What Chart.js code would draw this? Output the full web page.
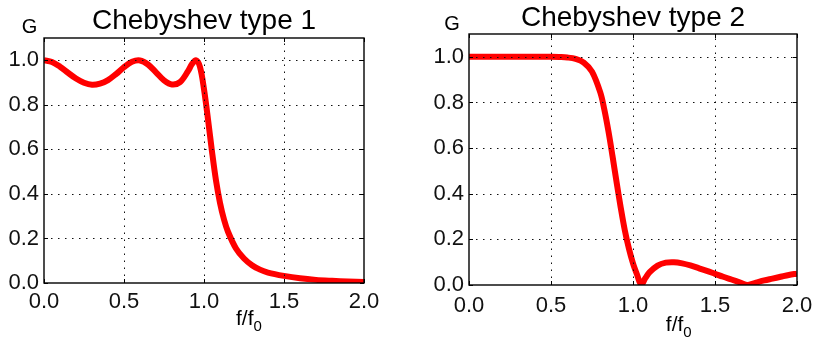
<!DOCTYPE html>
<html>
<head>
<meta charset="utf-8">
<script src="https://cdn.jsdelivr.net/npm/chart.js@4.4.1/dist/chart.umd.min.js"></script>
<style>
  html, body { margin: 0; padding: 0; background: #fff; overflow: hidden; }
  body { width: 814px; height: 340px; position: relative; }
  canvas { position: absolute; top: 0; }
  #c1 { left: 0; }
  #c2 { left: 407px; }
</style>
</head>
<body>
<canvas id="c1" width="407" height="340"></canvas>
<canvas id="c2" width="420" height="340"></canvas>
<script>
// Normalised frequency f/f0 and gain G of a 5th-order Chebyshev type 1 low-pass (1 dB ripple)
const freq1 = [0, 0.05, 0.1, 0.15, 0.2, 0.25, 0.3, 0.35, 0.4, 0.45, 0.5, 0.55, 0.6, 0.65, 0.7,
  0.75, 0.8, 0.85, 0.9, 0.925, 0.95, 0.975, 1.0, 1.025, 1.05, 1.075, 1.1, 1.125, 1.15, 1.2,
  1.25, 1.3, 1.35, 1.4, 1.5, 1.6, 1.7, 1.8, 1.9, 2.0];
const gain1 = [1.000, 0.992, 0.971, 0.944, 0.918, 0.899, 0.890, 0.895, 0.911, 0.938, 0.969,
  0.993, 0.999, 0.981, 0.946, 0.910, 0.891, 0.902, 0.951, 0.983, 1.000, 0.970, 0.870, 0.735,
  0.590, 0.460, 0.360, 0.285, 0.230, 0.155, 0.110, 0.080, 0.060, 0.047, 0.032, 0.021, 0.014,
  0.010, 0.007, 0.005];

// Same for a 5th-order Chebyshev type 2 low-pass (20 dB stop band)
const freq2 = [0, 0.1, 0.2, 0.3, 0.4, 0.5, 0.55, 0.6, 0.65, 0.7, 0.75, 0.8, 0.825, 0.85, 0.875,
  0.9, 0.925, 0.95, 0.975, 1.0, 1.025, 1.05, 1.075, 1.1, 1.15, 1.2, 1.25, 1.3, 1.35, 1.4,
  1.45, 1.5, 1.55, 1.6, 1.65, 1.7, 1.75, 1.8, 1.85, 1.9, 1.95, 2.0];
const gain2 = [1.000, 1.000, 1.000, 1.000, 1.000, 1.000, 0.999, 0.997, 0.991, 0.975, 0.935,
  0.845, 0.770, 0.675, 0.565, 0.450, 0.340, 0.240, 0.160, 0.095, 0.045, 0.002, 0.030, 0.055,
  0.085, 0.098, 0.100, 0.095, 0.086, 0.074, 0.062, 0.049, 0.036, 0.024, 0.012, 0.000, 0.010,
  0.020, 0.028, 0.036, 0.044, 0.050];

const xTickValues = [0, 0.5, 1.0, 1.5, 2.0];
const yTickValues = [0, 0.2, 0.4, 0.6, 0.8, 1.0];
const titles = ['Chebyshev type 1', 'Chebyshev type 2'];
const yLabel = 'G';
const xLabelMain = 'f/f';
const xLabelSub = '0';

const FONT = "'Liberation Sans', Arial, Helvetica, sans-serif";

// Dotted grid, inward tick marks and the frame, drawn over the curve
const frameDecor = {
  id: 'frameDecor',
  afterDatasetsDraw(chart, args, o) {
    const { ctx, chartArea: a, scales: { x, y } } = chart;
    const line = (x1, y1, x2, y2) => { ctx.beginPath(); ctx.moveTo(x1, y1); ctx.lineTo(x2, y2); ctx.stroke(); };
    ctx.save();
    ctx.strokeStyle = '#111';
    ctx.lineWidth = 1;
    ctx.setLineDash([1.5, 5.5]);
    xTickValues.forEach(v => {
      if (v <= x.min || v >= x.max) return;
      const px = Math.round(x.getPixelForValue(v)) + 0.5;
      line(px, a.bottom, px, a.top);
    });
    yTickValues.forEach(v => {
      if (v <= y.min || v >= y.max) return;
      const py = Math.round(y.getPixelForValue(v)) + 0.5;
      line(a.left, py, a.right, py);
    });
    ctx.setLineDash([]);
    ctx.strokeStyle = '#000';
    const tl = 4;
    xTickValues.forEach(v => {
      const px = Math.round(x.getPixelForValue(v)) + 0.5;
      line(px, a.bottom, px, a.bottom - tl);
      line(px, a.top, px, a.top + tl);
    });
    yTickValues.forEach(v => {
      const py = Math.round(y.getPixelForValue(v)) + 0.5;
      line(a.left, py, a.left + tl, py);
      line(a.right, py, a.right - tl, py);
    });
    ctx.lineWidth = 1.4;
    ctx.strokeRect(a.left, a.top, a.right - a.left, a.bottom - a.top);
    ctx.restore();
  },
  afterDraw(chart, args, o) {
    const { ctx, chartArea: a } = chart;
    ctx.save();
    ctx.fillStyle = '#000';
    ctx.textBaseline = 'alphabetic';
    // title
    ctx.font = `28px ${FONT}`;
    ctx.textAlign = 'center';
    ctx.fillText(o.title, (a.left + a.right) / 2, o.titleBaseline);
    // y axis label
    ctx.font = `20px ${FONT}`;
    ctx.fillText(yLabel, a.left - o.gOffset, a.top - o.gRaise);
    // x axis label with subscript
    ctx.textAlign = 'left';
    const lx = a.left + (a.right - a.left) * 0.6;
    const ly = a.bottom + o.xLabelDrop;
    ctx.font = `21px ${FONT}`;
    ctx.fillText(xLabelMain, lx, ly);
    const w = ctx.measureText(xLabelMain).width;
    ctx.font = `15px ${FONT}`;
    ctx.fillText(xLabelSub, lx + w, ly + 6);
    ctx.restore();
  }
};

function makeChart(id, freq, gain, cfg) {
  const points = freq.map((f, i) => ({ x: f, y: gain[i] }));
  return new Chart(document.getElementById(id), {
    type: 'line',
    data: {
      datasets: [{
        data: points,
        borderColor: '#ff0000',
        borderWidth: 6,
        pointRadius: 0,
        tension: 0.35,
        fill: false
      }]
    },
    options: {
      responsive: false,
      animation: false,
      devicePixelRatio: 1,
      layout: { padding: { left: 0, right: cfg.padRight, top: cfg.padTop, bottom: 0 } },
      plugins: {
        legend: { display: false },
        tooltip: { enabled: false },
        title: { display: false },
        frameDecor: cfg.decor
      },
      scales: {
        x: {
          type: 'linear',
          min: 0,
          max: 2,
          afterBuildTicks: s => { s.ticks = xTickValues.map(v => ({ value: v })); },
          afterFit: s => { s.height = cfg.xHeight; },
          grid: { display: false, drawTicks: false },
          border: { display: false },
          ticks: {
            color: '#111',
            padding: cfg.xPad,
            maxRotation: 0,
            font: { family: FONT, size: 22 },
            callback: v => Number(v).toFixed(1)
          }
        },
        y: {
          type: 'linear',
          min: 0,
          max: 1.1,
          afterBuildTicks: s => { s.ticks = yTickValues.map(v => ({ value: v })); },
          afterFit: s => { s.width = cfg.yWidth; },
          grid: { display: false, drawTicks: false },
          border: { display: false },
          ticks: {
            color: '#111',
            padding: 5,
            font: { family: FONT, size: 22 },
            callback: v => Number(v).toFixed(1)
          }
        }
      }
    },
    plugins: [frameDecor]
  });
}

makeChart('c1', freq1, gain1, {
  padRight: 43, padTop: 38, xHeight: 57, yWidth: 44, xPad: 6,
  decor: { title: titles[0], titleBaseline: 29, gOffset: 14.5, gRaise: 5, xLabelDrop: 42 }
});
makeChart('c2', freq2, gain2, {
  padRight: 30, padTop: 34, xHeight: 55, yWidth: 62, xPad: 8,
  decor: { title: titles[1], titleBaseline: 25.5, gOffset: 17, gRaise: 4, xLabelDrop: 46 }
});
</script>
</body>
</html>
